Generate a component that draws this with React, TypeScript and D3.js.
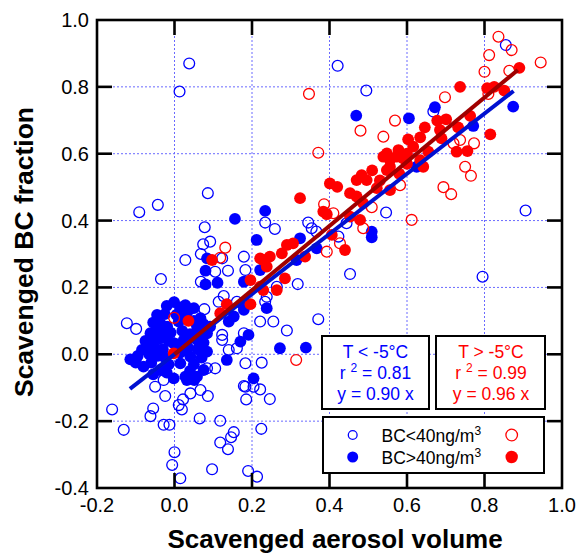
import React from 'react';
import * as d3 from 'd3';

type Pt = [number, number];

// T < -5°C, BC < 40 ng/m3
const blueOpen: Pt[] = [
  [0.855, 0.925], [0.668, 0.726], [0.234, 0.394], [0.259, 0.375], [0.345, 0.394], [0.354, 0.377],
  [0.366, 0.367], [0.546, 0.424], [0.423, 0.352], [0.453, 0.24], [0.318, 0.21], [0.264, 0.202],
  [0.238, 0.172], [0.444, 0.392], [0.038, 0.87], [0.013, 0.786], [0.421, 0.863], [0.495, 0.789],
  [0.906, 0.43], [0.795, 0.232], [0.086, 0.482], [-0.043, 0.447], [-0.091, 0.425], [0.078, 0.38],
  [0.092, 0.337], [0.074, 0.329], [0.068, 0.3], [0.028, 0.282], [0.123, 0.287], [0.179, 0.292],
  [0.138, 0.25], [0.183, 0.252], [0.105, 0.247], [0.068, 0.217], [-0.035, 0.225], [0.127, 0.174],
  [0.114, 0.157], [0.161, 0.157], [0.077, 0.135], [-0.123, 0.093], [-0.099, 0.076], [0.123, 0.058],
  [0.123, 0.043], [0.161, 0.018], [0.14, 0.013], [0.179, 0.063], [0.084, -0.042], [0.105, -0.042],
  [0.183, -0.027], [0.183, -0.097], [0.204, -0.097], [-0.028, -0.077], [-0.05, -0.097], [0.041, -0.117],
  [-0.024, -0.125], [0.067, -0.107], [0.022, -0.135], [0.011, -0.152], [0.019, -0.165], [-0.055, -0.162],
  [-0.062, -0.185], [-0.161, -0.165], [-0.131, -0.226], [-0.028, -0.211], [-0.013, -0.211], [0.065, -0.192],
  [0.086, -0.125], [0.118, -0.199], [0.153, -0.233], [0.146, -0.248], [0.118, -0.264], [0.138, -0.284],
  [0.0, -0.293], [-0.006, -0.331], [0.015, -0.371], [0.097, -0.344], [0.19, -0.349], [0.213, -0.366],
  [0.224, -0.223], [0.185, -0.135], [0.179, -0.095], [0.221, -0.105], [0.246, -0.134], [0.234, 0.157],
  [0.221, 0.098], [0.255, 0.098], [0.29, 0.071], [0.371, 0.105], [0.225, -0.025],
];

// T < -5°C, BC > 40 ng/m3
const blueFilled: Pt[] = [
  [0.874, 0.741], [0.672, 0.739], [0.605, 0.706], [0.771, 0.683], [0.234, 0.429], [0.212, 0.342],
  [0.324, 0.347], [0.367, 0.317], [0.509, 0.367], [0.509, 0.35], [0.221, 0.252], [0.315, 0.282],
  [0.625, 0.561], [0.469, 0.714], [0.156, 0.405], [0.084, 0.287], [0.08, 0.25], [0.08, 0.209],
  [0.111, 0.214], [-0.001, 0.156], [0.028, 0.147], [0.05, 0.138], [0.179, 0.217], [0.179, 0.142],
  [0.191, 0.058], [0.17, 0.038], [0.135, -0.017], [0.204, -0.072], [0.153, 0.113], [0.179, 0.133],
  [0.14, 0.098], [0.238, 0.138], [0.272, 0.018], [0.339, 0.02],
  [-0.02, 0.145], [0.015, 0.14], [0.035, 0.13], [-0.045, 0.118], [-0.025, 0.12], [0.005, 0.118],
  [0.03, 0.112], [0.067, 0.108], [0.05, 0.1], [-0.055, 0.095], [-0.035, 0.09], [-0.019, 0.083],
  [0.011, 0.098], [0.058, 0.083], [0.092, 0.083], [0.075, 0.09], [-0.062, 0.063], [-0.045, 0.07],
  [-0.03, 0.06], [-0.01, 0.065], [0.02, 0.07], [0.04, 0.06], [0.065, 0.065], [0.084, 0.063],
  [-0.075, 0.04], [-0.055, 0.045], [-0.037, 0.048], [-0.015, 0.04], [0.024, 0.043], [0.058, 0.043],
  [0.075, 0.035], [0.005, 0.03], [-0.084, 0.013], [-0.071, 0.023], [-0.05, 0.02], [-0.03, 0.015],
  [-0.002, 0.033], [0.035, 0.02], [0.06, 0.015], [0.084, 0.008], [-0.114, -0.015], [-0.095, -0.005],
  [-0.065, 0.0], [-0.045, -0.005], [-0.028, -0.007], [0.015, 0.005], [0.041, -0.007], [0.07, -0.01],
  [-0.1, -0.025], [-0.08, -0.037], [-0.06, -0.025], [-0.037, -0.047], [-0.015, -0.03], [0.015, -0.027],
  [0.05, -0.03], [0.075, -0.047], [-0.055, -0.06], [-0.02, -0.055], [-0.002, -0.072], [0.028, -0.067],
  [0.058, -0.067], [0.04, -0.05], [0.032, -0.077], [0.051, -0.077],
];

// T > -5°C, BC < 40 ng/m3
const redOpen: Pt[] = [
  [0.836, 0.95], [0.87, 0.91], [0.812, 0.895], [0.945, 0.873], [0.8, 0.845], [0.864, 0.848],
  [0.698, 0.769], [0.569, 0.699], [0.539, 0.651], [0.81, 0.779], [0.773, 0.631], [0.75, 0.561],
  [0.72, 0.631], [0.737, 0.641], [0.371, 0.603], [0.386, 0.449], [0.41, 0.422], [0.509, 0.44],
  [0.612, 0.402], [0.487, 0.377], [0.393, 0.307], [0.427, 0.332], [0.582, 0.506], [0.347, 0.779],
  [0.48, 0.669], [0.765, 0.534], [0.694, 0.5], [0.714, 0.479], [0.131, 0.319], [0.118, 0.289],
  [-0.001, 0.109], [0.314, -0.017],
];

// T > -5°C, BC > 40 ng/m3
const redFilled: Pt[] = [
  [0.89, 0.857], [0.737, 0.8], [0.807, 0.796], [0.825, 0.8], [0.851, 0.789], [0.763, 0.713],
  [0.815, 0.658], [0.678, 0.699], [0.701, 0.703], [0.646, 0.679], [0.732, 0.679], [0.685, 0.671],
  [0.634, 0.649], [0.603, 0.643], [0.689, 0.646], [0.616, 0.621], [0.578, 0.611], [0.548, 0.601],
  [0.655, 0.606], [0.728, 0.606], [0.756, 0.608], [0.634, 0.581], [0.59, 0.586], [0.556, 0.561],
  [0.642, 0.561], [0.324, 0.467], [0.401, 0.511], [0.42, 0.501], [0.483, 0.536], [0.47, 0.521],
  [0.496, 0.521], [0.453, 0.482], [0.47, 0.472], [0.487, 0.452], [0.384, 0.427], [0.393, 0.419],
  [0.453, 0.412], [0.479, 0.402], [0.406, 0.357], [0.44, 0.312], [0.337, 0.292], [0.306, 0.332],
  [0.29, 0.327], [0.277, 0.302], [0.246, 0.292], [0.229, 0.282], [0.238, 0.262], [0.285, 0.227],
  [0.264, 0.192], [0.548, 0.551], [0.556, 0.581], [0.539, 0.591], [0.573, 0.591], [0.556, 0.491],
  [0.522, 0.497], [0.51, 0.55], [0.6, 0.6], [0.53, 0.52], [0.58, 0.54], [0.6, 0.57],
  [0.097, 0.282], [0.196, 0.222], [0.196, 0.15], [0.135, 0.15], [0.221, 0.287], [0.221, 0.202],
  [-0.002, 0.003], [0.036, 0.1], [0.118, 0.123], [0.229, 0.192],
];

// fitted lines y = slope * x over the x range shown
const blueFit = { slope: 0.9, from: -0.115, to: 0.875 };
const redFit = { slope: 0.96, from: 0, to: 0.886 };

const xTicks = [-0.2, 0.0, 0.2, 0.4, 0.6, 0.8, 1.0];
const yTicks = [-0.4, -0.2, 0.0, 0.2, 0.4, 0.6, 0.8, 1.0];

const BLUE = '#0000ff';
const RED = '#ff0000';
const FONT = '"Liberation Sans", Arial, Helvetica, sans-serif';

const W = 576;
const H = 554;
const left = 97, right = 562, top = 20, bottom = 488;

const App: React.FC = () => {
  const x = d3.scaleLinear().domain([-0.2, 1.0]).range([left, right]);
  const y = d3.scaleLinear().domain([-0.4, 1.0]).range([bottom, top]);
  const line = d3.line<Pt>().x(d => x(d[0])).y(d => y(d[1]));
  const fitPts = (f: { slope: number; from: number; to: number }): Pt[] => [
    [f.from, f.slope * f.from],
    [f.to, f.slope * f.to],
  ];
  const tick = 15;
  const r = 5.4;

  return (
    <svg width={W} height={H} style={{ position: 'absolute', left: 0, top: 0 }} fontFamily={FONT}>
      <rect width={W} height={H} fill="#fff" />
      {/* grid */}
      <g stroke="#6a6aff" strokeWidth={1} strokeDasharray="2,2">
        {xTicks.slice(1, -1).map(t => (
          <line key={'gx' + t} x1={x(t)} x2={x(t)} y1={top} y2={bottom} />
        ))}
        {yTicks.slice(1, -1).map(t => (
          <line key={'gy' + t} x1={left} x2={right} y1={y(t)} y2={y(t)} />
        ))}
      </g>

      {/* points */}
      <g fill="none" stroke={BLUE} strokeWidth={1.3}>
        {blueOpen.map((d, i) => <circle key={'bo' + i} cx={x(d[0])} cy={y(d[1])} r={r} />)}
      </g>
      <g fill={BLUE}>
        {blueFilled.map((d, i) => <circle key={'bf' + i} cx={x(d[0])} cy={y(d[1])} r={r + 0.5} />)}
      </g>
      <g fill="none" stroke={RED} strokeWidth={1.3}>
        {redOpen.map((d, i) => <circle key={'ro' + i} cx={x(d[0])} cy={y(d[1])} r={r} />)}
      </g>
      <g fill={RED}>
        {redFilled.map((d, i) => <circle key={'rf' + i} cx={x(d[0])} cy={y(d[1])} r={r + 0.5} />)}
      </g>

      {/* fit lines */}
      <path d={line(fitPts(blueFit)) ?? ''} stroke="#0010d0" strokeWidth={4} fill="none" />
      <path d={line(fitPts(redFit)) ?? ''} stroke="#a00000" strokeWidth={4} fill="none" />

      {/* frame and ticks */}
      <g stroke="#000" strokeWidth={2.6}>
        <rect x={left} y={top} width={right - left} height={bottom - top} fill="none" />
        {xTicks.slice(1, -1).map(t => (
          <g key={'tx' + t}>
            <line x1={x(t)} x2={x(t)} y1={bottom} y2={bottom - tick} />
            <line x1={x(t)} x2={x(t)} y1={top} y2={top + tick} />
          </g>
        ))}
        {yTicks.slice(1, -1).map(t => (
          <g key={'ty' + t}>
            <line x1={left} x2={left + tick} y1={y(t)} y2={y(t)} />
            <line x1={right} x2={right - tick} y1={y(t)} y2={y(t)} />
          </g>
        ))}
      </g>

      {/* tick labels */}
      <g fontSize={20} fill="#000">
        {xTicks.map(t => (
          <text key={'lx' + t} x={x(t)} y={512} textAnchor="middle">{t.toFixed(1)}</text>
        ))}
        {yTicks.map(t => (
          <text key={'ly' + t} x={89} y={y(t) + 7} textAnchor="end">{t.toFixed(1)}</text>
        ))}
      </g>

      {/* axis titles */}
      <text x={335} y={548} textAnchor="middle" fontSize={26} fontWeight="bold">Scavenged aerosol volume</text>
      <text transform="translate(33,252) rotate(-90)" textAnchor="middle" fontSize={26.5} fontWeight="bold">
        Scavenged BC fraction
      </text>

      {/* fit boxes */}
      <g fontSize={17.5}>
        <rect x={322} y={336} width={107} height={73} fill="#fff" stroke="#000" strokeWidth={2} />
        <g fill={BLUE} textAnchor="middle">
          <text x={375.5} y={357.5}>T &lt; -5°C</text>
          <text x={375.5} y={379}>
            <tspan>r </tspan>
            <tspan dy={-7} fontSize={12}>2</tspan>
            <tspan dy={7}> = 0.81</tspan>
          </text>
          <text x={375.5} y={400}>y = 0.90 x</text>
        </g>
        <rect x={436} y={336} width={109} height={73} fill="#fff" stroke="#000" strokeWidth={2} />
        <g fill={RED} textAnchor="middle">
          <text x={491} y={357.5}>T &gt; -5°C</text>
          <text x={491} y={379}>
            <tspan>r </tspan>
            <tspan dy={-7} fontSize={12}>2</tspan>
            <tspan dy={7}> = 0.99</tspan>
          </text>
          <text x={491} y={400}>y = 0.96 x</text>
        </g>
      </g>

      {/* legend */}
      <rect x={323} y={417} width={221} height={56} fill="#fff" stroke="#000" strokeWidth={2} />
      <circle cx={352.7} cy={435} r={4.4} fill="none" stroke={BLUE} strokeWidth={1.3} />
      <circle cx={352.7} cy={457} r={5.5} fill={BLUE} />
      <circle cx={511.7} cy={435} r={5.8} fill="none" stroke={RED} strokeWidth={1.3} />
      <circle cx={511.7} cy={457} r={6.2} fill={RED} />
      <g fontSize={17.5} fill="#000">
        <text x={381.5} y={441.5}>
          BC&lt;40ng/m<tspan dy={-7} fontSize={12}>3</tspan>
        </text>
        <text x={381.5} y={463.5}>
          BC&gt;40ng/m<tspan dy={-7} fontSize={12}>3</tspan>
        </text>
      </g>
    </svg>
  );
};

export default App;
